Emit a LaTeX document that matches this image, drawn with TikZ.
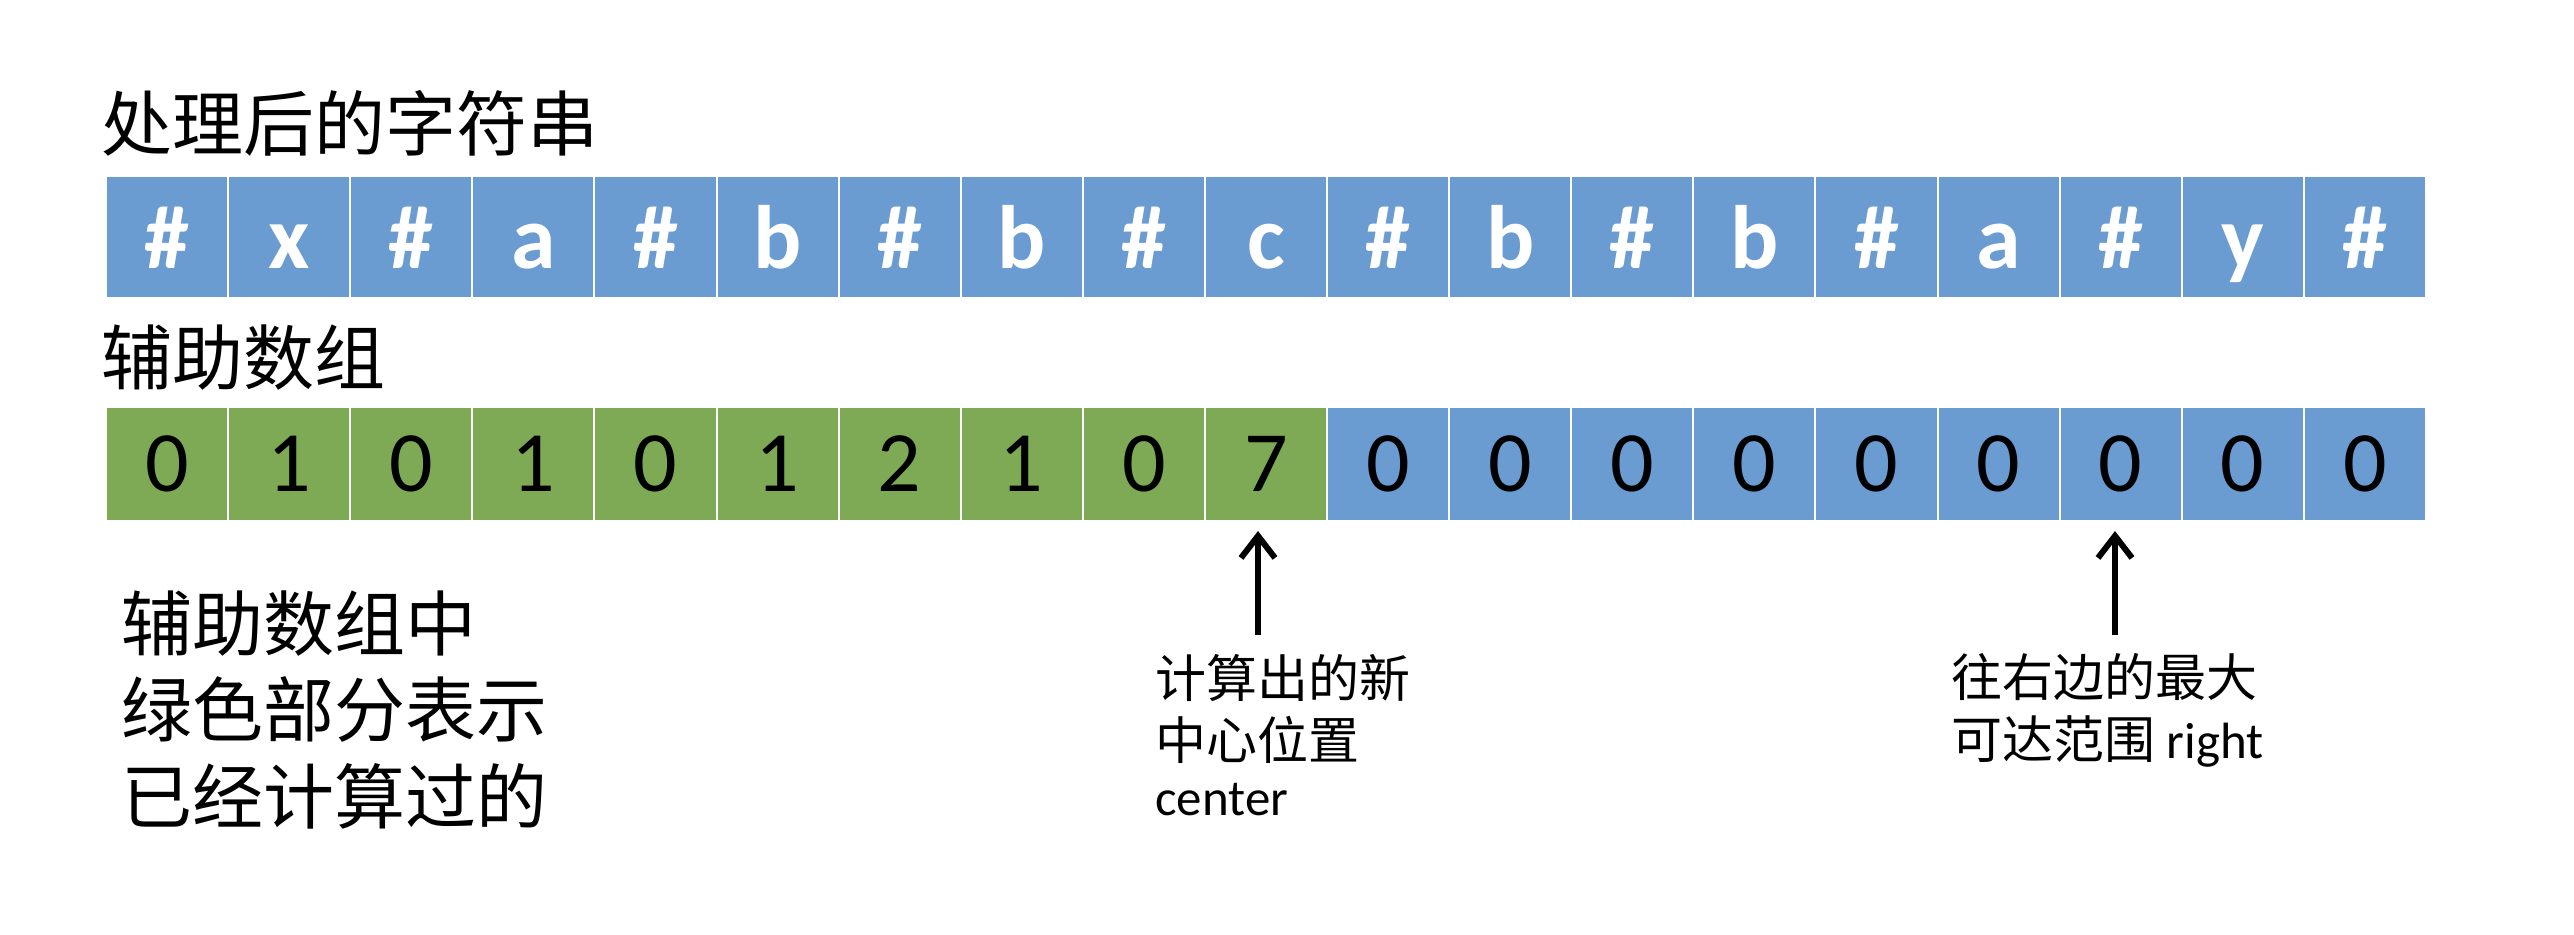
\documentclass[tikz,border=0pt]{standalone}
\usepackage{fontspec}
\setmainfont{Carlito}
\newfontfamily\cjk{Noto Sans CJK SC}
\usetikzlibrary{arrows.meta}

\definecolor{cellblue}{RGB}{106,155,209}
\definecolor{cellgreen}{RGB}{126,170,85}

\tikzset{
  cell/.style={draw=white,line width=1pt,inner sep=0pt,minimum width=61.05pt},
  charcell/.style={cell,fill=cellblue,minimum height=61pt,text=white,
    font=\fontsize{45}{45}\selectfont\bfseries,text height=31pt,text depth=0pt},
  numcell/.style={cell,minimum height=57pt,
    font=\fontsize{43}{43}\selectfont,text height=27pt,text depth=0pt},
  title/.style={anchor=base west,inner sep=0pt,font=\cjk\fontsize{35.5}{43.25}\selectfont},
  note/.style={anchor=base west,inner sep=0pt,align=left,font=\cjk\fontsize{25.5}{31}\selectfont},
  pointer/.style={line width=3pt,-{Straight Barb[length=11pt,width=17pt]},shorten >=4.5pt}
}

\begin{document}
\begin{tikzpicture}[x=0.5pt,y=-0.5pt]
\useasboundingbox (0,0) rectangle (2574,934);

% processed string
\node[title] (strtitle) at (101,150) {处理后的字符串};
\foreach \c [count=\i from 0] in {\#,x,\#,a,\#,b,\#,b,\#,c,\#,b,\#,b,\#,a,\#,y,\#}
  \node[charcell] (s\i) at (167.05+122.1*\i,237) {\c};

% helper array
\node[title] (arrtitle) at (101,384) {辅助数组};
\foreach \v [count=\i from 0] in {0,1,0,1,0,1,2,1,0,7}
  \node[numcell,fill=cellgreen] (p\i) at (167.05+122.1*\i,464) {\v};
\foreach \i in {10,...,18}
  \node[numcell,fill=cellblue] (p\i) at (167.05+122.1*\i,464) {0};

% base of a multi-line node is its last line
\node[title,align=left] (greennote) at (121,823) {辅助数组中\\绿色部分表示\\已经计算过的};

% pointers
\coordinate (ctail) at (1258,635);
\coordinate (rtail) at (2115,635);
\draw[pointer] (ctail) -- (ctail |- p9.south);
\draw[pointer] (rtail) -- (rtail |- p16.south);
\node[note] (cnote) at (1155,815) {计算出的新\\中心位置\\[-3pt]\rmfamily center};
\node[note] (rnote) at (1951,758) {往右边的最大\\可达范围 {\rmfamily right}};
\end{tikzpicture}
\end{document}
